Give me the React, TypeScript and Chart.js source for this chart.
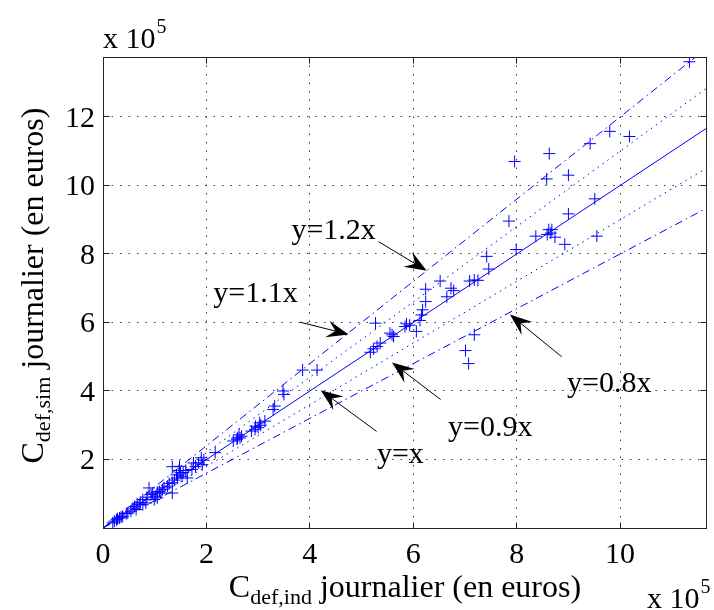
import React, { useEffect, useRef } from "react";
import { Chart, registerables } from "chart.js";

Chart.register(...registerables);

// Values in units of 10^5 euros
const X_MAX = 11.68;
const Y_MAX = 13.75;
const X_TICKS = [0, 2, 4, 6, 8, 10];
const Y_TICKS = [2, 4, 6, 8, 10, 12];

const X_IND = [
  11.34, 9.8, 10.18, 9.42, 8.63, 7.96, 8.58, 9.0, 9.51, 7.85, 9.0, 8.62, 8.66, 8.68, 8.37, 8.74, 8.59, 9.55, 8.93, 7.99,
  7.42, 7.46, 7.25,
  6.52, 6.24, 6.73, 6.78, 6.65, 7.09, 7.18, 6.24, 6.18, 6.16, 6.13, 5.27, 5.87, 5.84, 5.93, 6.06, 5.55, 5.62, 5.59, 5.36,
  5.3, 5.23, 5.17, 7.18, 7.01, 7.07, 3.86, 4.14,
  3.48, 3.5, 3.32, 3.29, 3.0, 2.94, 2.87, 3.03, 3.13, 2.68, 2.59, 2.52, 2.65, 2.17, 1.9, 1.85, 1.92, 1.79, 1.72, 1.48,
  1.34, 1.5, 1.53, 1.44, 1.63, 1.34, 1.25, 1.18, 1.34, 0.89, 0.96, 1.02, 1.09, 1.12, 0.77, 0.7, 0.61, 0.64, 0.54, 0.77,
  0.32, 0.26, 0.19, 0.38, 0.99, 1.05, 0.83, 0.48,
  1.42, 1.55, 1.47, 1.38, 1.28, 1.15, 1.05, 0.93, 0.85, 0.72, 0.66, 0.58, 0.45, 0.35, 0.28, 0.22, 1.6, 1.75, 1.95, 2.6,
  2.63, 3.05, 2.95,
];
const Y_SIM = [
  13.61, 11.58, 11.43, 11.22, 10.93, 10.7, 10.19, 10.3, 9.61, 8.96, 9.17, 8.71, 8.61, 8.71, 8.52, 8.49, 8.57, 8.52, 8.28,
  8.13, 7.93, 7.56, 7.23,
  7.21, 6.97, 7.0, 6.93, 6.75, 7.21, 7.24, 6.61, 6.37, 6.22, 6.06, 5.98, 5.96, 5.88, 5.92, 5.74, 5.69, 5.59, 5.64, 5.4,
  5.3, 5.23, 5.13, 5.64, 5.18, 4.8, 4.61, 4.61,
  4.0, 3.9, 3.56, 3.46, 2.93, 2.88, 2.83, 3.07, 3.12, 2.68, 2.59, 2.54, 2.63, 2.2, 2.05, 1.9, 1.85, 1.79, 1.71, 1.8, 1.79,
  1.61, 1.51, 1.46, 1.46, 1.32, 1.22, 1.17, 1.02, 1.17, 1.02, 0.93, 1.07, 1.02, 0.83, 0.68, 0.63, 0.54, 0.49, 0.68, 0.29,
  0.24, 0.15, 0.34, 0.83, 0.88, 0.73, 0.44,
  1.55, 1.62, 1.68, 1.4, 1.3, 1.12, 1.05, 0.98, 0.9, 0.75, 0.7, 0.58, 0.42, 0.32, 0.27, 0.2, 1.68, 1.9, 1.98, 2.63, 2.72,
  3.0, 2.97,
];

const REF_SLOPES = [1.2, 1.1, 1, 0.9, 0.8];
const REF_LABELS = ["y=1.2x", "y=1.1x", "y=x", "y=0.9x", "y=0.8x"];
const REF_STYLE = ["dashdot", "dot", "solid", "dot", "dashdot"];

// Annotation text anchors (centre x, baseline y) and arrows, in data units
const ANN_TEXT_X = [4.46, 2.95, 5.75, 7.49, 9.79];
const ANN_TEXT_Y = [8.43, 6.59, 1.91, 2.7, 3.96];
const ARROW_FROM_X = [5.33, 3.81, 5.29, 6.53, 8.87];
const ARROW_FROM_Y = [8.36, 6.01, 2.82, 3.75, 5.0];
const ARROW_TO_X = [6.26, 4.75, 4.21, 5.59, 7.87];
const ARROW_TO_Y = [7.51, 5.65, 4.02, 4.83, 6.23];

const X_TITLE = ["C", "def,ind", " journalier (en euros)"];
const Y_TITLE = ["C", "def,sim", " journalier (en euros)"];
const EXP_LABEL = ["x 10", "5"];

const SERIF = '"Liberation Serif", "Times New Roman", serif';
const BLUE = "#0000ff";

function dashFor(style: string): number[] {
  if (style === "dashdot") return [8, 4, 1.5, 4];
  if (style === "dot") return [1.5, 4.5];
  return [];
}

function drawSubscripted(
  ctx: CanvasRenderingContext2D,
  parts: string[],
  cx: number,
  baseline: number,
  mainSize: number,
  subSize: number,
  subDrop: number
) {
  const sizes = [mainSize, subSize, mainSize];
  const drops = [0, subDrop, 0];
  const widths = parts.map((p, i) => {
    ctx.font = `${sizes[i]}px ${SERIF}`;
    return ctx.measureText(p).width;
  });
  const total = widths.reduce((a, b) => a + b, 0);
  let x = cx - total / 2;
  ctx.textAlign = "left";
  ctx.textBaseline = "alphabetic";
  parts.forEach((p, i) => {
    ctx.font = `${sizes[i]}px ${SERIF}`;
    ctx.fillText(p, x, baseline + drops[i]);
    x += widths[i];
  });
}

function drawExp(ctx: CanvasRenderingContext2D, x: number, baseline: number) {
  ctx.textAlign = "left";
  ctx.textBaseline = "alphabetic";
  ctx.font = `30px ${SERIF}`;
  ctx.fillText(EXP_LABEL[0], x, baseline);
  const w = ctx.measureText(EXP_LABEL[0]).width;
  ctx.font = `20px ${SERIF}`;
  ctx.fillText(EXP_LABEL[1], x + w + 1, baseline - 15);
}

function drawArrow(ctx: CanvasRenderingContext2D, x0: number, y0: number, x1: number, y1: number) {
  const dx = x1 - x0;
  const dy = y1 - y0;
  const len = Math.hypot(dx, dy);
  const ux = dx / len;
  const uy = dy / len;
  const nx = -uy;
  const ny = ux;
  const L = 22;
  const W = 8.5;
  ctx.strokeStyle = "#000";
  ctx.lineWidth = 1;
  ctx.setLineDash([]);
  ctx.beginPath();
  ctx.moveTo(x0, y0);
  ctx.lineTo(x1 - ux * L * 0.6, y1 - uy * L * 0.6);
  ctx.stroke();
  ctx.fillStyle = "#000";
  ctx.beginPath();
  ctx.moveTo(x1, y1);
  ctx.lineTo(x1 - ux * L + nx * W, y1 - uy * L + ny * W);
  ctx.lineTo(x1 - ux * L * 0.62, y1 - uy * L * 0.62);
  ctx.lineTo(x1 - ux * L - nx * W, y1 - uy * L - ny * W);
  ctx.closePath();
  ctx.fill();
}

const matlabPlugin = {
  id: "matlabLook",
  beforeDatasetsDraw(chart: any) {
    const { ctx, chartArea: a, scales } = chart;
    const xs = scales.x;
    const ys = scales.y;
    ctx.save();
    ctx.strokeStyle = "#3a3a3a";
    ctx.lineWidth = 1;
    ctx.setLineDash([1.5, 7]);
    X_TICKS.forEach((v) => {
      if (v === 0) return;
      const px = Math.floor(xs.getPixelForValue(v)) + 0.5;
      ctx.beginPath();
      ctx.moveTo(px, a.top);
      ctx.lineTo(px, a.bottom);
      ctx.stroke();
    });
    Y_TICKS.forEach((v) => {
      const py = Math.floor(ys.getPixelForValue(v)) + 0.5;
      ctx.beginPath();
      ctx.moveTo(a.left, py);
      ctx.lineTo(a.right, py);
      ctx.stroke();
    });
    ctx.restore();
  },
  afterDraw(chart: any) {
    const { ctx, chartArea: a, scales } = chart;
    const xs = scales.x;
    const ys = scales.y;
    ctx.save();
    const L = Math.floor(a.left) + 0.5;
    const R = Math.floor(a.right) - 0.5;
    const T = Math.floor(a.top) + 0.5;
    const B = Math.floor(a.bottom) + 0.5;
    ctx.setLineDash([]);
    ctx.strokeStyle = "#222";
    ctx.lineWidth = 1;
    ctx.strokeRect(L, T, R - L, B - T);
    const tl = 6;
    ctx.beginPath();
    X_TICKS.forEach((v) => {
      const px = Math.floor(xs.getPixelForValue(v)) + 0.5;
      ctx.moveTo(px, B);
      ctx.lineTo(px, B - tl);
      ctx.moveTo(px, T);
      ctx.lineTo(px, T + tl);
    });
    Y_TICKS.forEach((v) => {
      const py = Math.floor(ys.getPixelForValue(v)) + 0.5;
      ctx.moveTo(L, py);
      ctx.lineTo(L + tl, py);
      ctx.moveTo(R, py);
      ctx.lineTo(R - tl, py);
    });
    ctx.stroke();

    // tick labels
    ctx.fillStyle = "#000";
    ctx.font = `30px ${SERIF}`;
    ctx.textAlign = "center";
    ctx.textBaseline = "alphabetic";
    X_TICKS.forEach((v) => {
      ctx.fillText(String(v), xs.getPixelForValue(v), a.bottom + 35);
    });
    ctx.textAlign = "right";
    Y_TICKS.forEach((v) => {
      ctx.fillText(String(v), a.left - 8, ys.getPixelForValue(v) + 10);
    });

    // exponents
    drawExp(ctx, a.left, a.top - 9);
    drawExp(ctx, 647, 608);

    // axis titles
    drawSubscripted(ctx, X_TITLE, (a.left + a.right) / 2, 597, 32, 22, 7);
    ctx.save();
    ctx.translate(43, (a.top + a.bottom) / 2 - 7);
    ctx.rotate(-Math.PI / 2);
    drawSubscripted(ctx, Y_TITLE, 0, 0, 32, 22, 7);
    ctx.restore();

    // annotations
    REF_LABELS.forEach((lab, i) => {
      ctx.font = `30px ${SERIF}`;
      ctx.textAlign = "center";
      ctx.fillStyle = "#000";
      ctx.fillText(lab, xs.getPixelForValue(ANN_TEXT_X[i]), ys.getPixelForValue(ANN_TEXT_Y[i]));
      drawArrow(
        ctx,
        xs.getPixelForValue(ARROW_FROM_X[i]),
        ys.getPixelForValue(ARROW_FROM_Y[i]),
        xs.getPixelForValue(ARROW_TO_X[i]),
        ys.getPixelForValue(ARROW_TO_Y[i])
      );
    });
    ctx.restore();
  },
};

export default function App() {
  const ref = useRef<HTMLCanvasElement | null>(null);
  useEffect(() => {
    if (!ref.current) return;
    const points = X_IND.map((x, i) => ({ x, y: Y_SIM[i] }));
    const lineSets = REF_SLOPES.map((s, i) => ({
      type: "line" as const,
      label: REF_LABELS[i],
      data: [
        { x: 0, y: 0 },
        { x: X_MAX, y: s * X_MAX },
      ],
      borderColor: BLUE,
      borderWidth: 1,
      borderDash: dashFor(REF_STYLE[i]),
      pointRadius: 0,
      fill: false,
      tension: 0,
    }));
    const chart = new Chart(ref.current, {
      type: "scatter",
      data: {
        datasets: [
          {
            label: "C_def",
            data: points,
            pointStyle: "cross",
            pointRadius: 6,
            pointHoverRadius: 6,
            borderColor: BLUE,
            backgroundColor: BLUE,
            borderWidth: 1,
          } as any,
          ...lineSets,
        ],
      },
      options: {
        animation: false,
        responsive: false,
        devicePixelRatio: 1,
        layout: { padding: { top: 57, right: 1, left: 0, bottom: 0 } },
        plugins: { legend: { display: false }, tooltip: { enabled: false }, title: { display: false } },
        events: [],
        scales: {
          x: {
            type: "linear",
            min: 0,
            max: X_MAX,
            grid: { display: false },
            border: { display: false },
            ticks: { display: false },
            afterBuildTicks: (s: any) => {
              s.ticks = X_TICKS.map((v) => ({ value: v }));
            },
            afterFit: (s: any) => {
              s.height = 82;
            },
          },
          y: {
            type: "linear",
            min: 0,
            max: Y_MAX,
            grid: { display: false },
            border: { display: false },
            ticks: { display: false },
            afterBuildTicks: (s: any) => {
              s.ticks = Y_TICKS.map((v) => ({ value: v }));
            },
            afterFit: (s: any) => {
              s.width = 103;
            },
          },
        },
      },
      plugins: [matlabPlugin],
    });
    return () => chart.destroy();
  }, []);
  return (
    <div style={{ position: "absolute", left: 0, top: 0, width: 714, height: 610, background: "#fff" }}>
      <canvas ref={ref} width={714} height={610} style={{ display: "block" }} />
    </div>
  );
}
